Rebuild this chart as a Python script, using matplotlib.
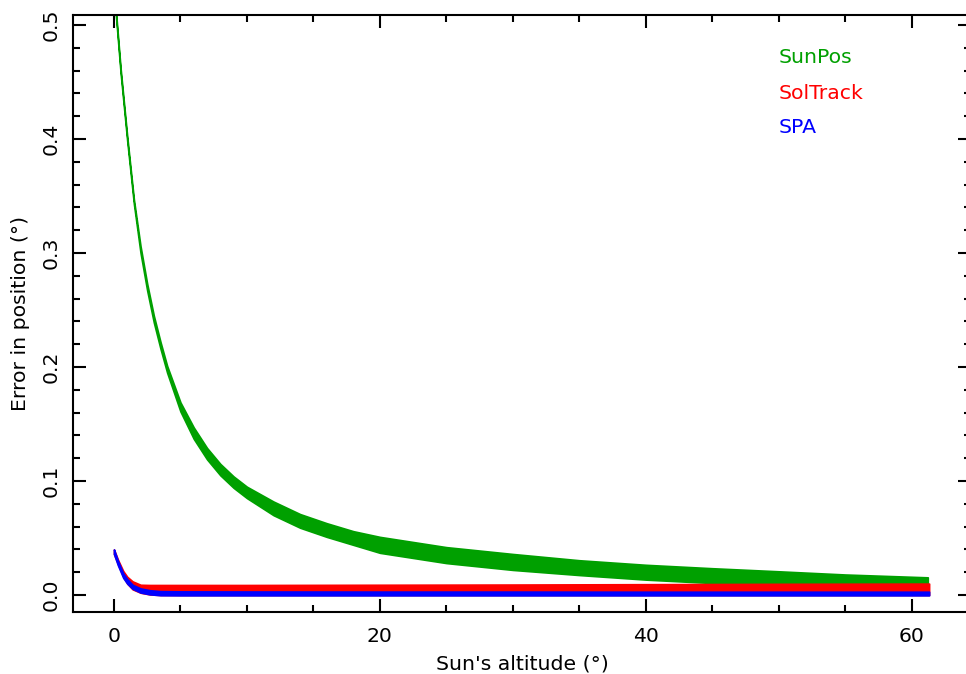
import matplotlib
matplotlib.use("Agg")
import matplotlib.pyplot as plt
from matplotlib.ticker import MultipleLocator

# ---- data (band edges of each scatter cloud) ----
sunpos_x  = [0.15, 0.5, 1.0, 1.5, 2.0, 2.5, 3.0, 3.5, 4.0, 5.0, 6.0, 7.0, 8.0, 9.0, 10.0,
             12.0, 14.0, 16.0, 18.0, 20.0, 25.0, 30.0, 35.0, 40.0, 45.0, 50.0, 55.0, 61.2]
sunpos_lo = [0.508, 0.458, 0.398, 0.343, 0.300, 0.267, 0.239, 0.216, 0.195, 0.161, 0.137, 0.119,
             0.105, 0.094, 0.085, 0.070, 0.059, 0.051, 0.044, 0.037, 0.028, 0.022, 0.0175, 0.0135,
             0.0105, 0.0082, 0.0062, 0.0045]
sunpos_hi = [0.512, 0.462, 0.402, 0.347, 0.306, 0.273, 0.245, 0.222, 0.201, 0.169, 0.147, 0.129,
             0.115, 0.104, 0.095, 0.082, 0.071, 0.063, 0.056, 0.051, 0.042, 0.036, 0.0305, 0.0265,
             0.0235, 0.0208, 0.0180, 0.0155]

soltrack_x  = [0.0, 0.3, 0.7, 1.0, 1.4, 2.0, 2.7, 3.5, 5.0, 10.0, 20.0, 30.0, 40.0, 50.0, 61.3]
soltrack_lo = [0.036, 0.027, 0.016, 0.010, 0.005, 0.002, 0.0005, 0.0, 0.0, 0.0, 0.0, 0.0, 0.0, 0.0, 0.0]
soltrack_hi = [0.040, 0.031, 0.021, 0.016, 0.012, 0.009, 0.0088, 0.0088, 0.0088, 0.0088, 0.009, 0.0092, 0.0095, 0.0098, 0.0100]

spa_x  = [0.0, 0.3, 0.7, 1.0, 1.4, 2.0, 2.7, 3.5, 5.0, 10.0, 20.0, 30.0, 40.0, 50.0, 61.3]
spa_lo = [0.036, 0.026, 0.015, 0.010, 0.0055, 0.0022, 0.0006, -0.0002, -0.0003, -0.0003, -0.0003, -0.0003, -0.0003, -0.0003, -0.0003]
spa_hi = [0.040, 0.030, 0.019, 0.014, 0.0090, 0.0058, 0.0042, 0.0034, 0.0032, 0.0031, 0.0030, 0.0030, 0.0029, 0.0029, 0.0029]

series_names  = ["SunPos", "SolTrack", "SPA"]
series_colors = ["#00a000", "#ff0000", "#0000ff"]

x_ticks = [0, 20, 40, 60]
y_ticks = [0.0, 0.1, 0.2, 0.3, 0.4, 0.5]

# ---- figure ----
W, H = 966, 674
fig = plt.figure(figsize=(W / 100, H / 100), dpi=100)
left, right, top, bottom = 73, 971, 15, 612
ax = fig.add_axes([left / W, 1 - bottom / H, (right - left) / W, (bottom - top) / H])

bands = [(sunpos_x, sunpos_lo, sunpos_hi),
         (soltrack_x, soltrack_lo, soltrack_hi),
         (spa_x, spa_lo, spa_hi)]
for (xs, lo, hi), col in zip(bands, series_colors):
    ax.fill_between(xs, lo, hi, color=col, lw=1.2, edgecolor=col)

ax.set_xlim(-3.08, 64.45)
ax.set_ylim(-0.0149, 0.5088)

FS = 14.7
ax.set_xticks(x_ticks)
ax.set_yticks(y_ticks)
ax.set_yticklabels([f"{v:.1f}" for v in y_ticks])
ax.xaxis.set_minor_locator(MultipleLocator(5))
ax.yaxis.set_minor_locator(MultipleLocator(0.02))

for s in ax.spines.values():
    s.set_linewidth(1.5)
ax.spines["right"].set_visible(False)

ax.tick_params(which="both", direction="in", top=True, right=True, width=1.5)
ax.tick_params(which="major", length=9.5)
ax.tick_params(which="minor", length=5)
ax.tick_params(axis="x", which="major", labelsize=FS, pad=11)
ax.tick_params(axis="y", which="major", labelsize=FS, pad=9, labelrotation=90)
for lab in ax.get_yticklabels():
    lab.set_verticalalignment("center")

ax.set_xlabel("Sun's altitude (°)", fontsize=FS, labelpad=6)
ax.set_ylabel("Error in position (°)", fontsize=FS, labelpad=8)

legend_y = [0.928, 0.869, 0.812]
for name, col, yy in zip(series_names, series_colors, legend_y):
    ax.text(0.786, yy, name, color=col, fontsize=FS, transform=ax.transAxes,
            ha="left", va="center")

fig.savefig("out.png", dpi=100)
